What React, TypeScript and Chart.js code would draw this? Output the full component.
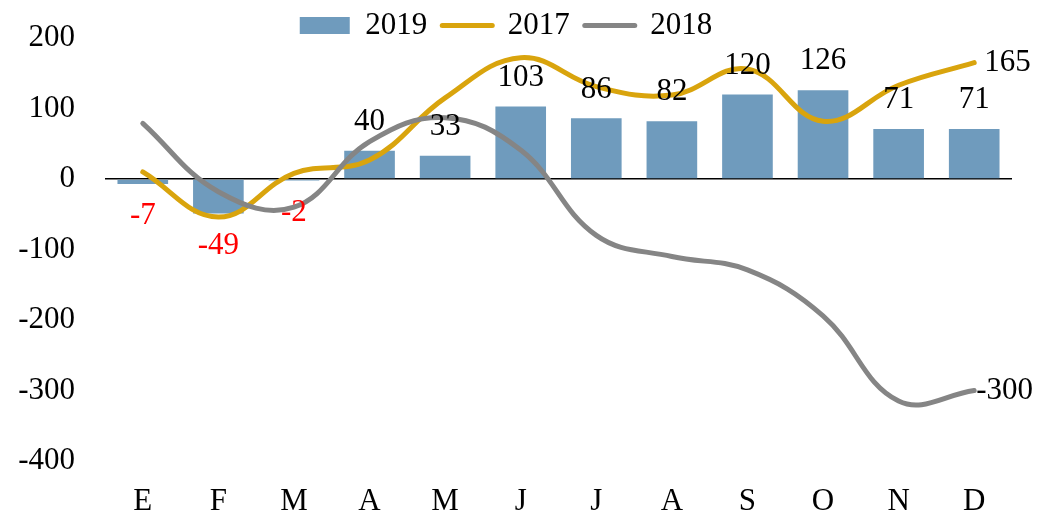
import React, { useEffect, useRef } from "react";
import { Chart, registerables } from "chart.js";

Chart.register(...registerables);

const months = ["E", "F", "M", "A", "M", "J", "J", "A", "S", "O", "N", "D"];
const values2019 = [-7, -49, -2, 40, 33, 103, 86, 82, 120, 126, 71, 71];
const values2017 = [10, -54, 8, 27, 115, 172, 131, 119, 156, 82, 133, 165];
const values2018 = [79, -18, -40, 53, 87, 41, -80, -110, -129, -194, -315, -300];
const yTicks = [200, 100, 0, -100, -200, -300, -400];

const FONT = "'Liberation Serif', 'Times New Roman', serif";
const FS = 31;

const labelPlugin = {
  id: "valueLabels",
  afterDatasetsDraw(chart: any) {
    const ctx = chart.ctx;
    ctx.save();
    ctx.font = `${FS}px ${FONT}`;
    ctx.textBaseline = "middle";
    const barMeta = chart.getDatasetMeta(0);
    barMeta.data.forEach((el: any, i: number) => {
      const v = values2019[i];
      ctx.textAlign = "center";
      if (v < 0) {
        ctx.fillStyle = "#FF0000";
        ctx.fillText(String(v), el.x, el.y + 32);
      } else {
        ctx.fillStyle = "#000000";
        ctx.fillText(String(v), el.x, el.y - 29);
      }
    });
    const m17 = chart.getDatasetMeta(1);
    const last17 = m17.data[m17.data.length - 1];
    ctx.textAlign = "left";
    ctx.fillStyle = "#000000";
    ctx.fillText(String(values2017[values2017.length - 1]), last17.x + 10, last17.y);
    const m18 = chart.getDatasetMeta(2);
    const last18 = m18.data[m18.data.length - 1];
    ctx.fillText(String(values2018[values2018.length - 1]), last18.x + 2, last18.y);
    ctx.restore();
  },
};

export default function App() {
  const ref = useRef<HTMLCanvasElement | null>(null);
  useEffect(() => {
    if (!ref.current) return;
    const chart: any = new Chart(ref.current, {
      type: "bar",
      data: {
        labels: months,
        datasets: [
          {
            type: "bar",
            label: "2019",
            data: values2019,
            backgroundColor: "#6F9BBD",
            borderWidth: 0,
            categoryPercentage: 1,
            barPercentage: 0.67,
            order: 2,
          } as any,
          {
            type: "line",
            label: "2017",
            data: values2017,
            borderColor: "#D9A40D",
            backgroundColor: "#D9A40D",
            borderWidth: 5,
            borderCapStyle: "round",
            pointRadius: 0,
            tension: 0.4,
            fill: false,
            order: 1,
          } as any,
          {
            type: "line",
            label: "2018",
            data: values2018,
            borderColor: "#858585",
            backgroundColor: "#858585",
            borderWidth: 5,
            borderCapStyle: "round",
            pointRadius: 0,
            tension: 0.4,
            fill: false,
            order: 0,
          } as any,
        ],
      },
      options: {
        animation: false,
        responsive: false,
        maintainAspectRatio: false,
        layout: { padding: { left: 0, right: 26, top: 0, bottom: 0 } },
        plugins: {
          tooltip: { enabled: false },
          legend: {
            display: true,
            position: "top",
            labels: {
              font: { family: FONT, size: FS },
              color: "#000",
              usePointStyle: true,
              pointStyleWidth: 50,
              boxHeight: 17,
              padding: 15,
              sort: (a: any, b: any) => a.datasetIndex - b.datasetIndex,
              generateLabels: (c: any) => {
                const items = Chart.defaults.plugins.legend.labels.generateLabels(c);
                return items.map((it: any) => {
                  if (it.datasetIndex === 0) {
                    return { ...it, pointStyle: "rect", lineWidth: 0, fillStyle: "#6F9BBD", strokeStyle: "#6F9BBD" };
                  }
                  return { ...it, pointStyle: "line", lineWidth: 5, lineCap: "round" };
                });
              },
            },
          },
        },
        scales: {
          x: {
            grid: { display: false },
            border: { display: false },
            ticks: { font: { family: FONT, size: FS }, color: "#000", padding: 14, maxRotation: 0 },
            afterFit: (s: any) => {
              s.height = 58;
            },
          },
          y: {
            min: -400,
            max: 200,
            afterBuildTicks: (s: any) => {
              s.ticks = yTicks.map((v) => ({ value: v }));
            },
            grid: {
              drawTicks: false,
              color: (c: any) => (c.tick && c.tick.value === 0 ? "#000000" : "rgba(0,0,0,0)"),
              lineWidth: 1.5,
            },
            border: { display: false },
            ticks: { font: { family: FONT, size: FS }, color: "#000", padding: 30 },
            afterFit: (s: any) => {
              s.width = 105;
              s.paddingTop = 0;
              s.paddingBottom = 0;
            },
          },
        },
      },
      plugins: [labelPlugin],
    } as any);
    if (chart.legend) {
      const lg = chart.legend;
      const origFit = lg.fit.bind(lg);
      lg.fit = function () {
        origFit();
        this.height = 38;
      };
      const origDraw = lg.draw.bind(lg);
      lg.draw = function () {
        const t = this.top;
        const b = this.bottom;
        this.top = t - 5;
        this.bottom = b + 12;
        origDraw();
        this.top = t;
        this.bottom = b;
      };
      chart.update();
    }
    return () => chart.destroy();
  }, []);
  return (
    <div style={{ position: "fixed", left: 0, top: 0, width: 1038, height: 519, background: "#fff" }}>
      <canvas ref={ref} width={1038} height={519} style={{ width: 1038, height: 519 }} />
    </div>
  );
}
